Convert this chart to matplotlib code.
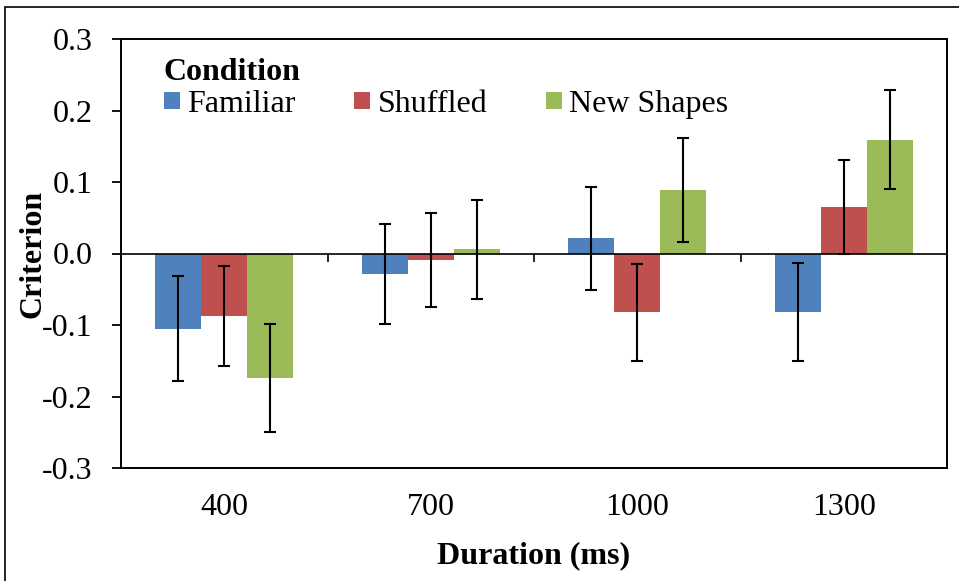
import matplotlib
matplotlib.use("Agg")
import matplotlib.pyplot as plt
import numpy as np
from matplotlib.patches import Rectangle

# ---- data ----
categories = ["400", "700", "1000", "1300"]
series_names = ["Familiar", "Shuffled", "New Shapes"]
familiar = [-0.105, -0.029, 0.021, -0.082]
shuffled = [-0.088, -0.009, -0.082, 0.065]
new_shapes = [-0.174, 0.006, 0.089, 0.159]
err_familiar = [0.073, 0.070, 0.072, 0.069]
err_shuffled = [0.070, 0.066, 0.068, 0.066]
err_new_shapes = [0.076, 0.069, 0.073, 0.069]
yticks = [-0.3, -0.2, -0.1, 0.0, 0.1, 0.2, 0.3]
ytick_labels = ["-0.3", "-0.2", "-0.1", "0.0", "0.1", "0.2", "0.3"]

values = [familiar, shuffled, new_shapes]
errors = [err_familiar, err_shuffled, err_new_shapes]
colors = ["#4F81BD", "#C0504D", "#9BBB59"]

plt.rcParams['font.family'] = ['Liberation Serif', 'DejaVu Serif']
FS = 23

fig = plt.figure(figsize=(9.59, 5.81), dpi=100)
ax = fig.add_axes([121/959, 1-468/581, (947-121)/959, (468-39)/581])

x = np.arange(len(categories))
w = 0.223
for i, (vals, errs, c, name) in enumerate(zip(values, errors, colors, series_names)):
    pos = x + (i - 1) * w
    ax.bar(pos, vals, width=w, color=c, label=name, zorder=2)
    ax.errorbar(pos, vals, yerr=errs, fmt='none', ecolor='black',
                elinewidth=1.5, capsize=4.5, capthick=1.5, zorder=4)

ax.axhline(0, color='black', lw=1.2, zorder=3)
# category boundary ticks on zero line
ax.vlines(x[1:] - 0.5, -0.0125, 0, color='black', lw=1.2, zorder=3)

ax.set_xlim(-0.5, len(categories) - 0.5)
ax.set_ylim(-0.3, 0.3)
ax.set_yticks(yticks)
ax.set_yticklabels(ytick_labels)
ax.set_xticks(x)
ax.set_xticklabels(categories)
ax.tick_params(axis='x', length=0, pad=18, labelsize=FS)
ax.tick_params(axis='y', length=6.5, width=1.3, direction='out', pad=14, labelsize=FS)
for s in ax.spines.values():
    s.set_linewidth(1.4)

ax.set_xlabel("Duration (ms)", fontsize=FS, fontweight='bold', labelpad=14)
ax.set_ylabel("Criterion", fontsize=FS, fontweight='bold', labelpad=-4)

leg = ax.legend(ncol=3, loc='upper left', bbox_to_anchor=(0.052, 0.956),
                frameon=False, fontsize=FS, title="Condition",
                title_fontproperties={'weight': 'bold', 'size': FS},
                alignment='left', borderpad=0, borderaxespad=0,
                handlelength=0.5, handleheight=0.47, handletextpad=0.22,
                columnspacing=1.85, labelspacing=0.1)

# outer frame of the figure
fig.patches.append(Rectangle((5/959, -0.1), 1.2, 1 - 7/581 + 0.1,
                             transform=fig.transFigure, fill=False,
                             edgecolor='black', lw=1.2, zorder=0))

fig.savefig("out.png", dpi=100)
